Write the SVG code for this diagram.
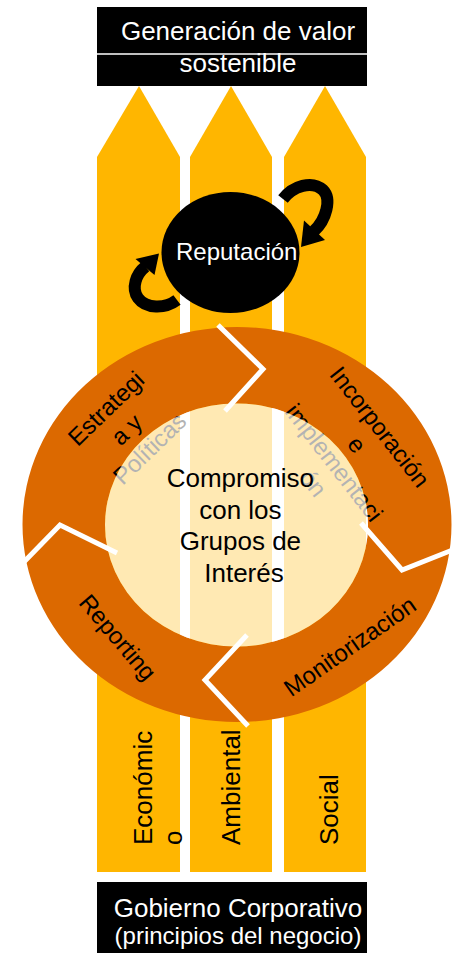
<svg xmlns="http://www.w3.org/2000/svg" width="457" height="953" viewBox="0 0 457 953">
<style>
  .col { fill: #FFB600; }
  .box { fill: #000000; }
  .wt { fill: #FFFFFF; font-family: "Liberation Sans", Arial, sans-serif; font-size: 26px; text-anchor: middle; }
  .bt { fill: #000000; font-family: "Liberation Sans", Arial, sans-serif; font-size: 26px; }
  .rl { fill: #000000; font-family: "Liberation Sans", Arial, sans-serif; font-size: 24px; text-anchor: middle; }
  .gap { fill: none; stroke: #FFFFFF; stroke-width: 5; stroke-linejoin: miter; stroke-miterlimit: 10; }
  .band { fill: none; stroke: #000000; stroke-width: 12; stroke-linecap: butt; }
</style>
<rect width="457" height="953" fill="#FFFFFF"/>

<g id="pillar-economico">
  <polygon class="col" points="97,157 139,86 180,157 180,872 97,872"/>
</g>
<g id="pillar-ambiental">
  <polygon class="col" points="190,157 231,86 272,157 272,872 190,872"/>
</g>
<g id="pillar-social">
  <polygon class="col" points="284,157 325,86 366,157 366,872 284,872"/>
</g>

<g id="ciclo">
  <path fill="#DC6900" fill-rule="evenodd" d="M22.5,524.5 A214.5,197.5 0 1,0 451.5,524.5 A214.5,197.5 0 1,0 22.5,524.5 Z M105,525 A131.5,121.5 0 1,0 368,525 A131.5,121.5 0 1,0 105,525 Z"/>
  <polyline class="gap" points="218,325 263,369 225,411"/>
  <polyline class="gap" points="361,523 402,570 455,549"/>
  <polyline class="gap" points="247,635 205,680 248,726"/>
  <polyline class="gap" points="117,553 60,525 20,566"/>
</g>

<g id="seg-estrategia">
  <text class="rl" transform="translate(129.2,427.5) rotate(-44)">
    <tspan x="0" y="-21.5">Estrategi</tspan>
    <tspan x="0" y="8">a y</tspan>
    <tspan x="0" y="37.5">Políticas</tspan>
  </text>
</g>
<g id="seg-incorporacion">
  <text class="rl" transform="translate(347.4,456.5) rotate(52)">
    <tspan x="0" y="-35.5">Incorporación</tspan>
    <tspan x="0" y="-6.5">e</tspan>
    <tspan x="0" y="22.5">implementaci</tspan>
    <tspan x="0" y="51.5">ón</tspan>
  </text>
</g>
<g id="seg-monitorizacion">
  <text class="rl" transform="translate(350,646.7) rotate(-35)" y="8">Monitorización</text>
</g>
<g id="seg-reporting">
  <text class="rl" transform="translate(117.5,637.5) rotate(49.5)" y="8">Reporting</text>
</g>

<g id="compromiso">
  <ellipse cx="236.5" cy="525" rx="131.5" ry="121.5" fill="#FFFFFF" fill-opacity="0.7"/>
  <text class="bt" text-anchor="middle" x="244">
    <tspan x="244" y="487">Compromiso</tspan>
    <tspan x="244" y="518.5">con los</tspan>
    <tspan x="244" y="550">Grupos de</tspan>
    <tspan x="244" y="581.5">Interés</tspan>
  </text>
</g>

<g id="reputacion">
  <ellipse cx="230.5" cy="252.5" rx="69" ry="60.5" fill="#000000"/>
  <text class="wt" x="236.7" y="260" style="font-size:24px">Reputación</text>
</g>

<g id="connectors">
  <path class="band" d="M283,199 C293,186 312,180 323,190 C332,199 326,220 314,231"/>
  <polygon points="301,247 304,220.5 325,240" fill="#000000"/>
  <path class="band" d="M177,300 C165,309 146,309 138,298 C131,288 136,274 145.5,266.5"/>
  <polygon points="159,253.5 135.5,259 154.5,275" fill="#000000"/>
</g>

<g id="generacion">
  <rect class="box" x="97" y="7" width="270" height="79"/>
  <line x1="97" y1="54" x2="367" y2="54" stroke="#FFFFFF" stroke-width="1.5"/>
  <text class="wt" x="238" y="40">Generación de valor</text>
  <text class="wt" x="238" y="72">sostenible</text>
</g>

<g id="pillar-labels">
  <text class="bt" transform="translate(152,845) rotate(-90)">Económic</text>
  <text class="bt" transform="translate(182,845) rotate(-90)">o</text>
  <text class="bt" transform="translate(240,845) rotate(-90)">Ambiental</text>
  <text class="bt" transform="translate(338,845) rotate(-90)">Social</text>
</g>

<g id="gobierno">
  <rect class="box" x="97" y="882" width="270" height="71"/>
  <text class="wt" x="238" y="917">Gobierno Corporativo</text>
  <text class="wt" x="238" y="944" style="font-size:24px">(principios del negocio)</text>
</g>
</svg>
